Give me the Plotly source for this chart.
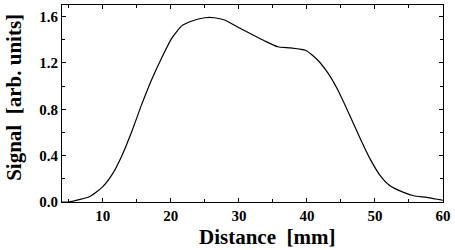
import plotly.graph_objects as go

distance_mm = [4.0, 5.0, 6.5, 8.0, 9.9, 11.4, 12.8, 14.3, 15.7, 17.2, 18.7, 20.1, 21.6, 23.0, 25.0,
               26.4, 27.9, 29.8, 31.8, 33.8, 35.7, 37.6, 39.8, 41.5, 43.0, 44.6, 46.2, 47.9,
               49.3, 50.8, 52.2, 54.2, 55.7, 57.6, 59.5, 60.0]
signal = [0.0, 0.0, 0.02, 0.045, 0.126, 0.24, 0.40, 0.615, 0.84, 1.06, 1.25, 1.41, 1.52, 1.56, 1.59,
          1.59, 1.57, 1.51, 1.45, 1.39, 1.34, 1.33, 1.31, 1.23, 1.12, 0.96, 0.76, 0.54,
          0.37, 0.225, 0.14, 0.083, 0.054, 0.04, 0.02, 0.015]

x_ticks = [10, 20, 30, 40, 50, 60]
y_ticks = [0.0, 0.4, 0.8, 1.2, 1.6]
y_tick_labels = ["0.0", "0.4", "0.8", "1.2", "1.6"]
x_title = "Distance  [mm]"
y_title = "Signal  [arb. units]"

fig = go.Figure()
fig.add_trace(go.Scatter(x=distance_mm, y=signal, mode="lines",
                         line=dict(color="black", width=1.2, shape="spline", smoothing=0.5),
                         showlegend=False, hoverinfo="skip"))

tickfont = dict(family="Liberation Serif", size=15, color="black", weight="bold")
titlefont = dict(family="Liberation Serif", size=21, color="black", weight="bold")
axis_common = dict(showline=True, linecolor="black", linewidth=1.2, mirror="ticks",
                   ticks="inside", ticklen=4, tickwidth=1, tickcolor="black",
                   showgrid=False, zeroline=False, tickfont=tickfont)

fig.update_xaxes(range=[4, 60], tickvals=x_ticks,
                 minor=dict(dtick=5, ticks="inside", ticklen=3, tickcolor="black", showgrid=False),
                 **axis_common)
fig.update_yaxes(range=[0, 1.7], tickvals=y_ticks, ticktext=y_tick_labels,
                 minor=dict(dtick=0.2, ticks="inside", ticklen=3, tickcolor="black", showgrid=False),
                 **axis_common)

fig.add_annotation(text=x_title, xref="paper", yref="paper", x=0.537, y=-0.178,
                   xanchor="center", yanchor="middle", showarrow=False, font=titlefont)
fig.add_annotation(text=y_title, xref="paper", yref="paper", x=-0.128, y=0.53,
                   xanchor="center", yanchor="middle", showarrow=False, textangle=-90,
                   font=titlefont)

fig.update_layout(width=455, height=250, margin=dict(l=62, r=10, t=4, b=48),
                  plot_bgcolor="white", paper_bgcolor="white",
                  font=dict(family="Liberation Serif", color="black"))

fig.write_html("out.html")
